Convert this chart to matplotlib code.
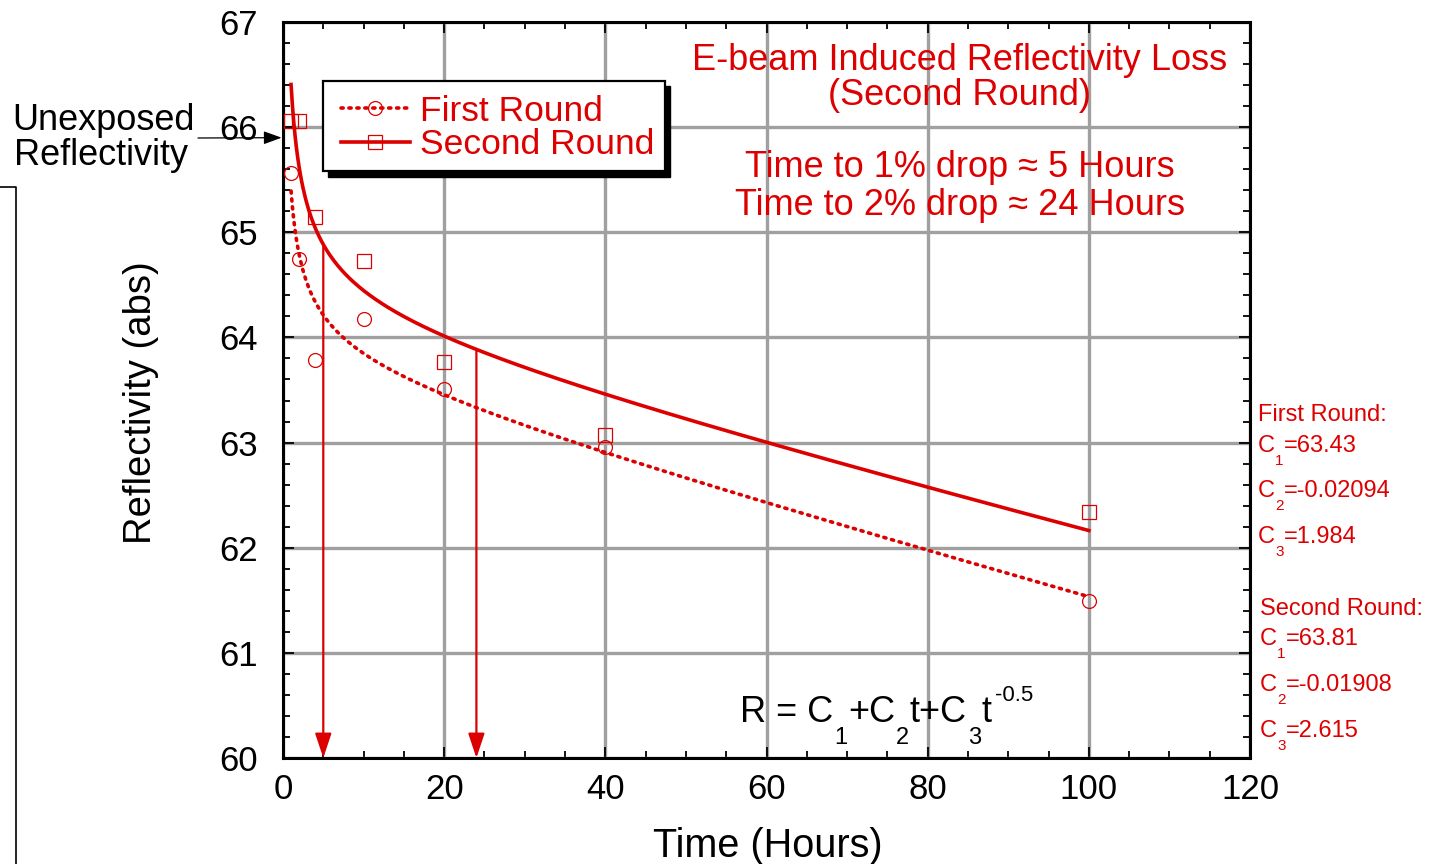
import numpy as np
import matplotlib
matplotlib.use("Agg")
import matplotlib.pyplot as plt
from matplotlib.lines import Line2D
from matplotlib.patches import Rectangle

plt.rcParams['font.family'] = ['Liberation Sans', 'DejaVu Sans']

# ---------------- data ----------------
time_first = [1, 2, 4, 10, 20, 40, 100]
refl_first = [65.56, 64.75, 63.79, 64.18, 63.51, 62.96, 61.49]
time_second = [1, 2, 4, 10, 20, 40, 100]
refl_second = [66.06, 66.06, 65.15, 64.73, 63.77, 63.07, 62.34]
coef_first = [63.43, -0.02094, 1.984]
coef_second = [63.81, -0.01908, 2.615]
drop_times = [5, 24]
unexposed_level = 65.9
x_ticks = [0, 20, 40, 60, 80, 100, 120]
y_ticks = [60, 61, 62, 63, 64, 65, 66, 67]

RED = '#dd0000'
W, H = 1429, 864


def fx(x):
    return x / W


def fy(y):
    return 1 - y / H


fig = plt.figure(figsize=(W / 100, H / 100), dpi=100)
ax = fig.add_axes([fx(283), fy(758), fx(1250) - fx(283), fy(22) - fy(758)])
ax.set_xlim(0, 120)
ax.set_ylim(60, 67)

# grid
ax.set_xticks(x_ticks)
ax.set_yticks(y_ticks)
ax.set_xticks(np.arange(0, 121, 5), minor=True)
ax.set_yticks(np.arange(60, 67.01, 0.2), minor=True)
ax.grid(True, which='major', color='#a0a0a0', lw=2.4, zorder=0)
ax.set_axisbelow(True)
for s in ax.spines.values():
    s.set_linewidth(2.2)
ax.tick_params(which='both', direction='in', top=True, right=True, width=1.3,
               labelsize=25)
ax.tick_params(which='major', length=8)
ax.tick_params(which='minor', length=5)
ax.tick_params(axis='y', pad=18)
ax.tick_params(axis='x', pad=11)


def model(c, t):
    t = np.asarray(t, dtype=float)
    return c[0] + c[1] * t + c[2] * t ** -0.5


tt = np.linspace(1, 100, 600)
ax.plot(tt, model(coef_first, tt), color=RED, lw=2.6, ls=(0, (0.6, 1.6)),
        dash_capstyle='round', zorder=3)
ax.plot(tt, model(coef_second, tt), color=RED, lw=2.6, zorder=3)
ax.plot(time_first, refl_first, ls='none', marker='o', ms=10, mfc='none',
        mec=RED, mew=0.9, zorder=4)
ax.plot(time_second, refl_second, ls='none', marker='s', ms=10, mfc='none',
        mec=RED, mew=0.9, zorder=4)

# drop arrows
for t in drop_times:
    y0 = float(model(coef_second, t))
    ax.annotate('', xy=(t, 60), xytext=(t, y0),
                arrowprops=dict(arrowstyle='-|>,head_length=1.5,head_width=0.5',
                                color=RED, lw=1.6, shrinkA=0, shrinkB=0),
                zorder=4)

# legend (manual box with shadow)
handles = [Line2D([], [], color=RED, lw=2.6, ls=(0, (0.6, 1.6)),
                  dash_capstyle='round', marker='o', ms=10, mfc='none', mew=0.9),
           Line2D([], [], color=RED, lw=2.6, marker='s', ms=10, mfc='none', mew=0.9)]
leg = ax.legend(handles, ['First Round', 'Second Round'], loc='upper left',
                bbox_to_anchor=(fx(330), fy(84)), bbox_transform=fig.transFigure,
                frameon=False, fontsize=25.5, handlelength=1.95, handletextpad=0.3,
                labelspacing=0.02, numpoints=1, borderpad=0.3, borderaxespad=0)
for txt in leg.get_texts():
    txt.set_color(RED)
leg.set_zorder(7)
ax.add_patch(Rectangle((fx(328), fy(177)), fx(670) - fx(328), fy(86) - fy(177),
                       transform=fig.transFigure, facecolor='black',
                       edgecolor='black', zorder=5, clip_on=False))
ax.add_patch(Rectangle((fx(323), fy(171)), fx(665) - fx(323), fy(81) - fy(171),
                       transform=fig.transFigure, facecolor='white',
                       edgecolor='black', lw=1.6, zorder=6, clip_on=False))

# title texts
for s, y in [('E-beam Induced Reflectivity Loss', 70),
             ('(Second Round)', 105),
             ('Time to 1% drop \u2248 5 Hours', 177),
             ('Time to 2% drop \u2248 24 Hours', 215)]:
    fig.text(fx(960), fy(y), s, ha='center', va='baseline', fontsize=26, color=RED)


def rich_text(xp, yp, pieces, color):
    s, size, dy = pieces[0]
    base = fig.text(fx(xp), fy(yp), s, fontsize=size, color=color,
                    va='baseline', ha='left')
    prev = base
    for s, size, dy, *dx in pieces[1:]:
        prev = ax.annotate(s, xy=(1, 0), xycoords=(prev, base),
                           xytext=(dx[0] if dx else 0, dy), textcoords='offset points',
                           fontsize=size, color=color, va='bottom', ha='left',
                           annotation_clip=False)
    return base


# formula
rich_text(740, 722, [('R = C', 26, 0), ('1', 17, -14, 1), ('+C', 26, 0),
                     ('2', 17, -14, 1), ('t+C', 26, 0), ('3', 17, -14, 1),
                     ('t', 26, 0), ('-0.5', 16, 17, 3)], 'black')

# coefficient annotations
fig.text(fx(1258), fy(421), 'First Round:', fontsize=17, color=RED, va='baseline')
for i, (c, y) in enumerate(zip(coef_first, [452, 497, 543])):
    rich_text(1258, y, [('C', 17, 0), (str(i + 1), 11, -8), ('=%g' % c, 17, 0)], RED)
fig.text(fx(1260), fy(615), 'Second Round:', fontsize=17, color=RED, va='baseline')
for i, (c, y) in enumerate(zip(coef_second, [645, 691, 737])):
    rich_text(1260, y, [('C', 17, 0), (str(i + 1), 11, -8), ('=%g' % c, 17, 0)], RED)

# unexposed reflectivity annotation
fig.text(fx(12), fy(130), 'Unexposed', fontsize=26, va='baseline')
fig.text(fx(14), fy(165), 'Reflectivity', fontsize=26, va='baseline')
ax.annotate('', xy=(0, unexposed_level), xycoords='data',
            xytext=(fx(198), fy(138)), textcoords='figure fraction',
            arrowprops=dict(arrowstyle='-|>,head_length=1.1,head_width=0.4',
                            color='black', lw=0.9, shrinkA=0, shrinkB=1),
            annotation_clip=False)

# axis labels
fig.text(fx(141), fy(403), 'Reflectivity (abs)', rotation=90, ha='center',
         va='center', fontsize=27.5)
fig.text(fx(768), fy(857), 'Time (Hours)', ha='center', va='baseline', fontsize=28.5)

# stray frame edge at left
fig.add_artist(Line2D([fx(0), fx(16), fx(16)], [fy(187), fy(187), fy(864)],
                      transform=fig.transFigure, color='black', lw=1.2))

fig.savefig('out.png', dpi=100)
